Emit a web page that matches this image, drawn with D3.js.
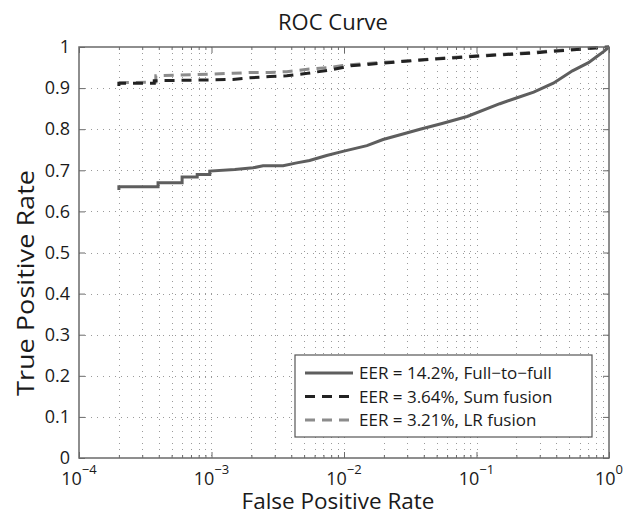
<!DOCTYPE html>
<html>
<head>
<meta charset="utf-8">
<script src="https://cdn.jsdelivr.net/npm/d3@7"></script>
<style>
  body { margin: 0; background: #fff; }
  text { font-family: "Open Sans", sans-serif; fill: #1a1a1a; }
</style>
</head>
<body>
<svg id="chart" width="634" height="516"></svg>
<script>
// values
const fprFull = [2e-4, 2e-4, 3.95e-4, 3.95e-4, 6e-4, 6e-4, 7.8e-4, 7.8e-4, 9.7e-4, 9.7e-4, 1.5e-3, 2.06e-3, 2.45e-3, 3.47e-3, 4.4e-3, 5.5e-3, 7.4e-3, 9.8e-3, 1.49e-2, 1.97e-2, 2.7e-2, 3.75e-2, 5.5e-2, 8.5e-2, 0.15, 0.2, 0.27, 0.38, 0.53, 0.7, 0.81, 0.92, 1];
const tprFull = [0.652, 0.66, 0.66, 0.67, 0.67, 0.684, 0.684, 0.69, 0.69, 0.698, 0.702, 0.706, 0.711, 0.711, 0.718, 0.724, 0.736, 0.746, 0.76, 0.775, 0.787, 0.80, 0.814, 0.831, 0.862, 0.876, 0.89, 0.912, 0.942, 0.962, 0.977, 0.99, 1];

const fprSum = [2e-4, 2e-4, 3.7e-4, 3.7e-4, 9.7e-4, 1.45e-3, 1.95e-3, 2.76e-3, 3.7e-3, 5.3e-3, 7.8e-3, 9.8e-3, 1.1e-2, 2.6e-2, 5.6e-2, 8.5e-2, 0.133, 0.267, 0.36, 0.57, 1];
const tprSum = [0.905, 0.912, 0.912, 0.918, 0.92, 0.921, 0.925, 0.928, 0.93, 0.936, 0.944, 0.95, 0.954, 0.964, 0.972, 0.976, 0.98, 0.985, 0.989, 0.994, 1];

const fprLR = [2e-4, 3.8e-4, 3.8e-4, 9.7e-4, 1.45e-3, 1.95e-3, 2.76e-3, 3.7e-3, 5.3e-3, 7.8e-3, 9.8e-3, 1.1e-2, 2.6e-2, 5.6e-2, 8.5e-2, 0.133, 0.267, 0.36, 0.57, 1];
const tprLR = [0.913, 0.915, 0.93, 0.934, 0.936, 0.938, 0.938, 0.94, 0.946, 0.95, 0.955, 0.957, 0.965, 0.973, 0.977, 0.981, 0.987, 0.99, 0.995, 1];

const seriesNames = ["EER = 14.2%, Full\u2212to\u2212full", "EER = 3.64%, Sum fusion", "EER = 3.21%, LR fusion"];
const seriesColors = ["#5e5e5e", "#222222", "#8c8c8c"];
const seriesDash = [null, "10,7", "10,7"];

const xMajor = [1e-4, 1e-3, 1e-2, 1e-1, 1];
const xExponents = ["\u22124", "\u22123", "\u22122", "\u22121", "0"];
const yTicks = d3.range(0, 11).map(i => i / 10);

const svg = d3.select("#chart");
const pLeft = 79, pRight = 609, pTop = 47, pBottom = 458;

const x = d3.scaleLog().domain([1e-4, 1]).range([pLeft, pRight]);
const y = d3.scaleLinear().domain([0, 1]).range([pBottom, pTop]);

// minor positions on the log axis (2..9 in each decade)
const xMinor = [];
xMajor.slice(0, -1).forEach(d => {
  for (let k = 2; k <= 9; k++) xMinor.push(d * k);
});
const xAll = xMajor.concat(xMinor);

// Grid
const grid = svg.append("g").attr("class", "grid")
  .attr("stroke", "#9a9a9a").attr("stroke-width", 1).attr("stroke-dasharray", "1,5");
grid.selectAll("line.v")
  .data(xAll.filter(d => d > 1e-4 && d < 1))
  .enter().append("line")
  .attr("x1", d => Math.round(x(d)) + 0.5).attr("x2", d => Math.round(x(d)) + 0.5)
  .attr("y1", pTop).attr("y2", pBottom);
grid.selectAll("line.h")
  .data(yTicks.filter(d => d > 0 && d < 1))
  .enter().append("line")
  .attr("x1", pLeft).attr("x2", pRight)
  .attr("y1", d => Math.round(y(d)) + 0.5).attr("y2", d => Math.round(y(d)) + 0.5);

// Curves
const series = [
  { fpr: fprFull, tpr: tprFull },
  { fpr: fprSum, tpr: tprSum },
  { fpr: fprLR, tpr: tprLR }
];
const line = d3.line().x(d => x(d[0])).y(d => y(d[1]));
const drawOrder = [2, 1, 0];
svg.append("g").selectAll("path")
  .data(drawOrder)
  .enter().append("path")
  .attr("fill", "none")
  .attr("stroke", i => seriesColors[i])
  .attr("stroke-width", 3)
  .attr("stroke-dasharray", i => seriesDash[i])
  .attr("d", i => line(d3.zip(series[i].fpr, series[i].tpr)));

// Axes (ticks inside, on all four sides)
const axisColor = "#6a6a6a";
function styleAxis(g) {
  g.select(".domain").remove();
  g.selectAll("line").attr("stroke", axisColor);
}
svg.append("g").attr("transform", `translate(0,${pBottom})`)
  .call(d3.axisBottom(x).tickValues(xMajor).tickSize(-6).tickFormat(""))
  .call(styleAxis);
svg.append("g").attr("transform", `translate(0,${pBottom})`)
  .call(d3.axisBottom(x).tickValues(xMinor).tickSize(-3).tickFormat(""))
  .call(styleAxis);
svg.append("g").attr("transform", `translate(0,${pTop})`)
  .call(d3.axisTop(x).tickValues(xMajor).tickSize(-6).tickFormat(""))
  .call(styleAxis);
svg.append("g").attr("transform", `translate(0,${pTop})`)
  .call(d3.axisTop(x).tickValues(xMinor).tickSize(-3).tickFormat(""))
  .call(styleAxis);
svg.append("g").attr("transform", `translate(${pLeft},0)`)
  .call(d3.axisLeft(y).tickValues(yTicks).tickSize(-6).tickPadding(9)
    .tickFormat(d => (d === 0 || d === 1) ? String(d) : d.toFixed(1)))
  .call(styleAxis)
  .selectAll("text").style("font-size", "18px").attr("fill", "#1a1a1a");
svg.append("g").attr("transform", `translate(${pRight},0)`)
  .call(d3.axisRight(y).tickValues(yTicks).tickSize(-6).tickFormat(""))
  .call(styleAxis);

// x tick labels as 10 with superscript exponent
const xl = svg.append("g").selectAll("text")
  .data(xMajor)
  .enter().append("text")
  .attr("x", d => x(d))
  .attr("y", 485)
  .attr("text-anchor", "middle");
xl.append("tspan").style("font-size", "18px").text("10");
xl.append("tspan").style("font-size", "13px").attr("dy", -11).text((d, i) => xExponents[i]);

// Box
svg.append("rect")
  .attr("x", pLeft).attr("y", pTop)
  .attr("width", pRight - pLeft).attr("height", pBottom - pTop)
  .attr("fill", "none").attr("stroke", axisColor).attr("stroke-width", 1.5);

// Legend
const lg = svg.append("g").attr("transform", "translate(295,355)");
lg.append("rect").attr("width", 297).attr("height", 82)
  .attr("fill", "#fff").attr("stroke", "#555").attr("stroke-width", 1.2);
const rows = lg.selectAll("g.row")
  .data(seriesNames)
  .enter().append("g")
  .attr("transform", (d, i) => `translate(0,${18 + i * 23.5})`);
rows.append("line")
  .attr("x1", 10).attr("x2", 58)
  .attr("stroke", (d, i) => seriesColors[i])
  .attr("stroke-width", 3)
  .attr("stroke-dasharray", (d, i) => seriesDash[i]);
rows.append("text")
  .attr("x", 64).attr("y", 6)
  .style("font-size", "17px")
  .text(d => d);

// Titles
svg.append("text")
  .attr("x", 333).attr("y", 30)
  .attr("text-anchor", "middle")
  .style("font-size", "22px")
  .text("ROC Curve");
svg.append("text")
  .attr("x", 338).attr("y", 509)
  .attr("text-anchor", "middle")
  .style("font-size", "22.5px")
  .text("False Positive Rate");
svg.append("text")
  .attr("transform", "translate(34,283) rotate(-90)")
  .attr("text-anchor", "middle")
  .attr("textLength", 226)
  .attr("lengthAdjust", "spacingAndGlyphs")
  .style("font-size", "23px")
  .text("True Positive Rate");
</script>
</body>
</html>
